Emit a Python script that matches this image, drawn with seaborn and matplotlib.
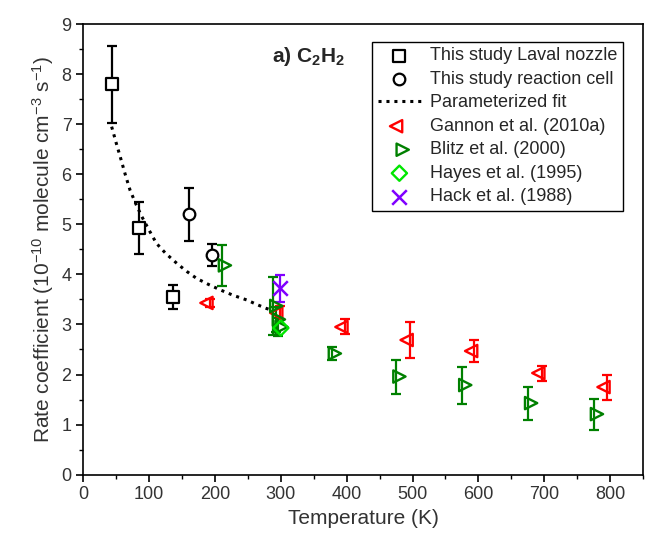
import numpy as np
import matplotlib
matplotlib.use("Agg")
import matplotlib.pyplot as plt
import seaborn as sns
from matplotlib.path import Path

# Data
laval_T = [44, 84, 136]
laval_k = [7.80, 4.93, 3.55]
laval_err = [0.77, 0.52, 0.24]

cell_T = [160, 195]
cell_k = [5.20, 4.38]
cell_err = [0.53, 0.22]

fit_T = [43, 50, 56, 64, 71, 80, 89, 100, 111, 125, 142, 157, 172, 190, 208, 228, 248, 265, 278, 290]
fit_k = [6.95, 6.62, 6.35, 5.98, 5.68, 5.40, 5.15, 4.88, 4.62, 4.42, 4.22, 4.06, 3.92, 3.80, 3.69, 3.58, 3.49, 3.39, 3.32, 3.27]

gannon_T = [192, 298, 397, 496, 594, 696, 795]
gannon_k = [3.43, 3.23, 2.95, 2.69, 2.47, 2.03, 1.75]
gannon_err = [0.08, 0.13, 0.15, 0.35, 0.22, 0.15, 0.25]

blitz_T = [210, 288, 292, 296, 377, 475, 575, 675, 775]
blitz_k = [4.18, 3.37, 3.10, 2.95, 2.42, 1.96, 1.79, 1.43, 1.21]
blitz_err = [0.41, 0.58, 0.25, 0.18, 0.12, 0.34, 0.37, 0.33, 0.31]

hayes_T = [300]
hayes_k = [2.93]

hack_T = [298]
hack_k = [3.72]
hack_err = [0.27]

sns.set_style("ticks")
plt.rcParams['font.family'] = ['Liberation Sans', 'DejaVu Sans']
plt.rcParams['mathtext.fontset'] = 'custom'
plt.rcParams['mathtext.rm'] = 'Liberation Sans'
plt.rcParams['mathtext.bf'] = 'Liberation Sans:bold'
plt.rcParams['mathtext.it'] = 'Liberation Sans:italic'

RED = '#ff0000'
GREEN = '#008000'
LIME = '#00e600'
PURPLE = '#8000ff'

# triangle markers with the flat side on the error bar
tri_left = Path([(-1.0, 0.0), (0.3, 0.65), (0.3, -0.65), (-1.0, 0.0)],
                [Path.MOVETO, Path.LINETO, Path.LINETO, Path.CLOSEPOLY])
tri_right = Path([(1.0, 0.0), (-0.3, 0.65), (-0.3, -0.65), (1.0, 0.0)],
                 [Path.MOVETO, Path.LINETO, Path.LINETO, Path.CLOSEPOLY])

fig, ax = plt.subplots(figsize=(6.46, 5.43), dpi=100)
fig.subplots_adjust(left=0.129, right=0.9954, bottom=0.1258, top=0.9558)

eb = dict(fmt='none', elinewidth=1.6, capsize=3.5, capthick=1.6, zorder=2)
ax.errorbar(laval_T, laval_k, yerr=laval_err, ecolor='k', **eb)
ax.errorbar(cell_T, cell_k, yerr=cell_err, ecolor='k', **eb)
ax.errorbar(gannon_T, gannon_k, yerr=gannon_err, ecolor=RED, **eb)
ax.errorbar(blitz_T, blitz_k, yerr=blitz_err, ecolor=GREEN, **eb)
ax.errorbar(hack_T, hack_k, yerr=hack_err, ecolor=PURPLE, **eb)

sns.scatterplot(x=laval_T, y=laval_k, marker='s', s=65, color='k', facecolor='white',
                edgecolor='k', linewidth=1.6, zorder=3, ax=ax, label='This study Laval nozzle')
sns.scatterplot(x=cell_T, y=cell_k, marker='o', s=70, color='k', facecolor='white',
                edgecolor='k', linewidth=1.6, zorder=3, ax=ax, label='This study reaction cell')
sns.lineplot(x=fit_T, y=fit_k, sort=False, color='k', linewidth=2.2,
             linestyle=(0, (1, 1.6)), ax=ax, label='Parameterized fit', zorder=2)
sns.scatterplot(x=gannon_T, y=gannon_k, marker=tri_left, s=185, color=RED, facecolor='none',
                edgecolor=RED, linewidth=1.7, zorder=3, ax=ax, label='Gannon et al. (2010a)')
sns.scatterplot(x=blitz_T, y=blitz_k, marker=tri_right, s=185, color=GREEN, facecolor='none',
                edgecolor=GREEN, linewidth=1.7, zorder=3, ax=ax, label='Blitz et al. (2000)')
sns.scatterplot(x=hayes_T, y=hayes_k, marker='D', s=60, color=LIME, facecolor='none',
                edgecolor=LIME, linewidth=1.7, zorder=3, ax=ax, label='Hayes et al. (1995)')
sns.scatterplot(x=hack_T, y=hack_k, marker='x', s=110, color=PURPLE, edgecolor=None,
                linewidth=1.8, zorder=4, ax=ax, label='Hack et al. (1988)')

ax.set_xlim(0, 850)
ax.set_ylim(0, 9)
ax.set_xticks(np.arange(0, 801, 100))
ax.set_xticks(np.arange(50, 851, 100), minor=True)
ax.set_yticks(np.arange(0, 10, 1))
ax.set_yticks(np.arange(0.5, 9, 1), minor=True)
ax.tick_params(which='major', direction='out', length=5, width=1.2, labelsize=13, color='k',
               labelcolor='#333333')
ax.tick_params(which='minor', direction='out', length=3, width=1.0, color='k')
for sp in ax.spines.values():
    sp.set_linewidth(1.2)
    sp.set_color('k')
    sp.set_visible(True)

ax.set_xlabel('Temperature (K)', fontsize=15, color='#333333')
ax.set_ylabel(r'Rate coefficient (10$^{-10}$ molecule cm$^{-3}$ s$^{-1}$)', fontsize=15,
              color='#333333', labelpad=4)

ax.text(0.337, 0.927, r'a) C$_\mathbf{2}$H$_\mathbf{2}$', transform=ax.transAxes,
        fontsize=15, fontweight='bold', va='center', ha='left')

leg = ax.legend(loc='upper right', bbox_to_anchor=(0.964, 0.960), fontsize=13,
                frameon=True, fancybox=False, edgecolor='k', framealpha=1,
                borderaxespad=0, borderpad=0.3, labelspacing=0.36,
                handlelength=2.4, handletextpad=0.5)
leg.get_frame().set_linewidth(1.0)

fig.savefig('out.png', dpi=100)
